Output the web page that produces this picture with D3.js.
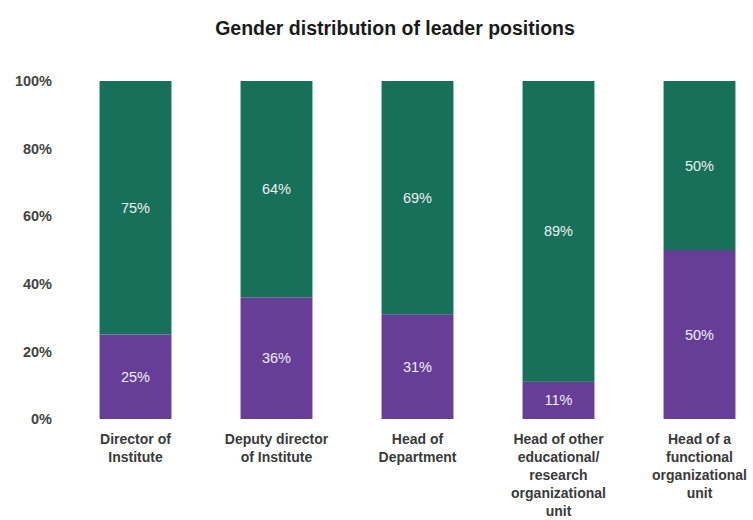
<!DOCTYPE html>
<html>
<head>
<meta charset="utf-8">
<script src="https://cdn.jsdelivr.net/npm/d3@7"></script>
<style>
  html, body { margin: 0; padding: 0; background: #fff; }
  svg { display: block; font-family: "Liberation Sans", Arial, sans-serif; }
</style>
</head>
<body>
<svg id="chart" width="753" height="520"></svg>
<script>
// Leader positions and share of each gender (percent)
const categories = [
  ["Director of", "Institute"],
  ["Deputy director", "of Institute"],
  ["Head of", "Department"],
  ["Head of other", "educational/", "research", "organizational", "unit"],
  ["Head of a", "functional", "organizational", "unit"]
];
const womenShare = [25, 36, 31, 11, 50];
const menShare = [75, 64, 69, 89, 50];
const tickValues = [0, 20, 40, 60, 80, 100];
const title = "Gender distribution of leader positions";

const colors = { women: "#663e97", men: "#17705a" };

const svg = d3.select("#chart");
const keys = categories.map((c, i) => i);

const x = d3.scaleBand()
  .domain(keys)
  .range([65, 770])
  .paddingInner(0.49)
  .paddingOuter(0.245);

const y = d3.scaleLinear().domain([0, 100]).range([419, 81]);

// Title
svg.append("text")
  .attr("x", 395).attr("y", 35)
  .attr("text-anchor", "middle")
  .attr("font-size", 19.5).attr("font-weight", "bold")
  .attr("fill", "#1a1a1a")
  .text(title);

// Y axis (labels only)
const yAxis = d3.axisLeft(y)
  .tickValues(tickValues)
  .tickFormat(d => d + "%")
  .tickSize(0)
  .tickPadding(0);
const yg = svg.append("g").attr("transform", "translate(52,0)").call(yAxis);
yg.select(".domain").remove();
yg.selectAll("text")
  .attr("font-size", 14.5).attr("font-weight", "bold")
  .attr("fill", "#444").attr("font-family", "Liberation Sans, Arial, sans-serif");

// Stacked bars
const rows = keys.map(i => ({ i, women: womenShare[i], men: menShare[i] }));
const stack = d3.stack().keys(["women", "men"])(rows);

const layers = svg.append("g").selectAll("g")
  .data(stack).join("g")
  .attr("fill", d => colors[d.key]);

layers.selectAll("rect")
  .data(d => d)
  .join("rect")
  .attr("x", d => x(d.data.i))
  .attr("width", x.bandwidth())
  .attr("y", d => y(d[1]))
  .attr("height", d => y(d[0]) - y(d[1]));

// Value labels centred in each segment
layers.selectAll("text")
  .data(d => d.map(v => ({ v, key: d.key })))
  .join("text")
  .attr("x", d => x(d.v.data.i) + x.bandwidth() / 2)
  .attr("y", d => (y(d.v[0]) + y(d.v[1])) / 2 + 5)
  .attr("text-anchor", "middle")
  .attr("font-size", 14.5)
  .attr("fill", "#eeeeee")
  .text(d => d.v.data[d.key] + "%");

// Category labels
const xg = svg.append("g");
categories.forEach((lines, i) => {
  const t = xg.append("text")
    .attr("x", x(i) + x.bandwidth() / 2)
    .attr("y", 444)
    .attr("text-anchor", "middle")
    .attr("font-size", 14).attr("font-weight", "bold")
    .attr("fill", "#3a3a3a");
  lines.forEach((ln, j) => {
    t.append("tspan")
      .attr("x", x(i) + x.bandwidth() / 2)
      .attr("dy", j === 0 ? 0 : 18)
      .text(ln);
  });
});
</script>
</body>
</html>
